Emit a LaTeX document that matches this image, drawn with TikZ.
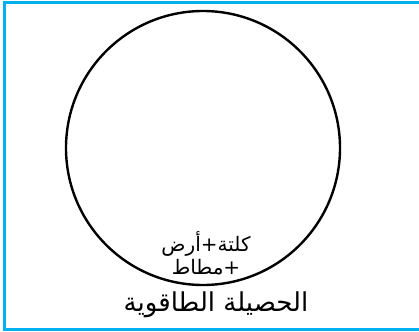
\documentclass[tikz,border=0pt]{standalone}
\usepackage{fontspec}
\usepackage{xcolor}
\usepackage{tikz}
\usetikzlibrary{positioning}
\TeXXeTstate=1
\newfontfamily\arabicfont[Script=Arabic]{DejaVu Sans}
\definecolor{frameblue}{HTML}{00B0F0}

\begin{document}
\begin{tikzpicture}[
    x=1pt, y=-1pt,
    frame/.style={draw=frameblue, line width=3.5pt},
    system/.style={circle, draw=black, line width=2.4pt, minimum size=274pt, inner sep=0pt},
    inlabel/.style={align=center, font=\arabicfont\fontsize{20}{23}\selectfont, inner sep=0pt},
    title/.style={font=\arabicfont\fontsize{26}{30}\selectfont, inner sep=0pt}
  ]
  \clip (0,0) rectangle (419,331);

  % Frame
  \draw[frame] (4.5,2.5) rectangle (425,329.5);

  % System
  \node[system] (sys) at (203,148) {};
  \node[inlabel] (parts) at (206,253) {\beginR كلتة+أرض\endR\\\beginR +مطاط\endR};

  % Caption
  \node[title] (balance) at (216,305) {\beginR الحصيلة الطاقوية\endR};

\end{tikzpicture}
\end{document}
